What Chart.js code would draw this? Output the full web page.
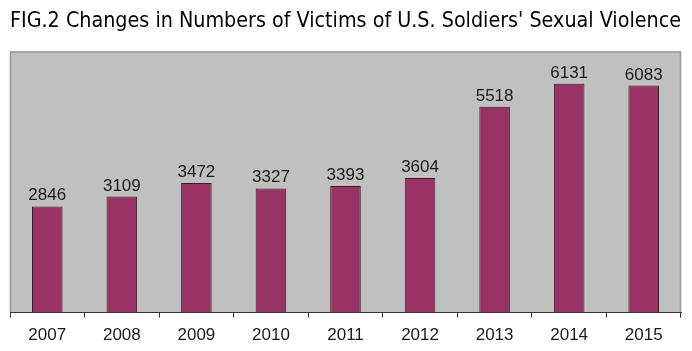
<!DOCTYPE html>
<html>
<head>
<meta charset="utf-8">
<script src="https://cdn.jsdelivr.net/npm/chart.js@4/dist/chart.umd.min.js"></script>
<style>
  html, body { margin: 0; padding: 0; background: #fff; }
  #wrap { width: 692px; height: 351px; }
</style>
</head>
<body>
<div id="wrap"><canvas id="myChart" width="692" height="351"></canvas></div>
<script>
// chart data
var years = ['2007', '2008', '2009', '2010', '2011', '2012', '2013', '2014', '2015'];
var victims = [2846, 3109, 3472, 3327, 3393, 3604, 5518, 6131, 6083];
var titleText = "FIG.2 Changes in Numbers of Victims of U.S. Soldiers' Sexual Violence";

// grey plot background with a thin border
var plotBackground = {
    id: 'plotBackground',
    beforeDraw: function(chart){
        var ctx = chart.ctx;
        var a = chart.chartArea;
        ctx.save();
        ctx.fillStyle = '#c0c0c0';
        ctx.fillRect(a.left, a.top, a.right - a.left, a.bottom - a.top);
        ctx.strokeStyle = '#999999';
        ctx.lineWidth = 1.5;
        ctx.beginPath();
        ctx.moveTo(a.left + 0.5, a.bottom);
        ctx.lineTo(a.left + 0.5, a.top + 0.5);
        ctx.lineTo(a.right - 0.5, a.top + 0.5);
        ctx.lineTo(a.right - 0.5, a.bottom);
        ctx.stroke();
        ctx.restore();
    }
};

// numbers above each bar
var valueLabels = {
    id: 'valueLabels',
    afterDatasetsDraw: function(chart){
        var ctx = chart.ctx;
        var meta = chart.getDatasetMeta(0);
        ctx.save();
        ctx.font = '17px "Liberation Sans", Arial, sans-serif';
        ctx.fillStyle = '#1a1a1a';
        ctx.textAlign = 'center';
        ctx.textBaseline = 'alphabetic';
        meta.data.forEach(function(bar, i){
            ctx.fillText(String(victims[i]), bar.x, bar.y - 6);
        });
        ctx.restore();
    }
};

var ctx = document.getElementById('myChart').getContext('2d');

var myChart = new Chart(ctx, {
    type: 'bar',
    data: {
        labels: years,
        datasets: [{
            data: victims,
            backgroundColor: '#993366',
            borderColor: '#3a1a28',
            borderWidth: 1,
            barPercentage: 0.82,
            categoryPercentage: 0.5
        }]
    },
    options: {
        responsive: false,
        animation: false,
        layout: { padding: { left: 10, right: 11, bottom: -3 } },
        plugins: {
            legend: { display: false },
            tooltip: { enabled: false },
            title: {
                display: true,
                text: titleText,
                align: 'start',
                color: '#000',
                font: { family: '"DejaVu Sans Condensed", sans-serif', size: 22, weight: 'normal' },
                padding: { top: 8, bottom: 17 }
            }
        },
        scales: {
            x: {
                offset: true,
                border: { display: true, color: '#333', width: 1 },
                grid: { display: true, offset: true, drawOnChartArea: false, color: '#333', tickLength: 5 },
                ticks: {
                    color: '#1a1a1a',
                    padding: 8,
                    font: { family: '"Liberation Sans", Arial, sans-serif', size: 17 }
                }
            },
            y: {
                display: false,
                min: 0,
                max: 7000
            }
        }
    },
    plugins: [plotBackground, valueLabels]
});
</script>
</body>
</html>
